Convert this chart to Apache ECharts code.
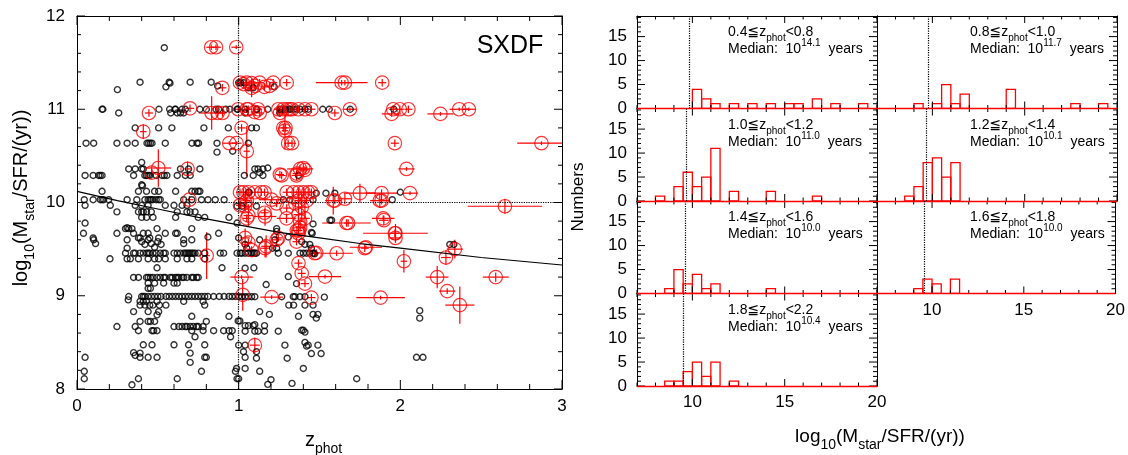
<!DOCTYPE html>
<html>
<head>
<meta charset="utf-8">
<title>sxdf-age</title>
<script src="https://cdn.jsdelivr.net/npm/echarts@6/dist/echarts.min.js"></script>
<style>html,body{margin:0;padding:0;background:#fff}#main{width:1128px;height:455px}</style>
</head>
<body>
<div id="main"></div>
<script>
var FONT = "'Liberation Sans', 'DejaVu Sans', Arial, sans-serif";

// ---- left panel: black = all galaxies [z_phot, log age]
var blackPts = [
 [0.54,11.66],
 [0.25,11.21],[0.39,11.29],[0.55,11.24],[0.57,11.29],[0.575,11.28],[0.70,11.29],[0.83,11.29],[0.87,11.25],
 [1.0,11.285],[1.01,11.285],[1.03,11.285],[1.06,11.23],[1.09,11.23],[1.22,11.24],
 [0.155,11.0],[0.16,11.0],[0.507,11.0],[0.573,11.0],[0.606,11.0],[0.61,11.0],[0.65,11.0],[0.67,11.0],[0.76,11.0],[0.80,11.0],[0.86,11.0],[0.876,11.0],[0.92,11.0],[0.946,11.0],[0.99,11.0],[0.995,11.0],
 [1.04,11.0],[1.11,11.0],[1.18,11.0],[1.255,11.0],[1.27,11.0],[1.29,11.0],[1.31,11.0],[1.32,11.0],[1.34,11.0],[1.36,11.0],[1.38,11.0],[1.41,11.0],[1.43,11.0],[1.52,11.0],[1.56,11.0],[1.69,11.0],[1.96,11.0],
 [0.258,10.96],[0.58,10.96],[0.62,10.96],[0.64,10.96],[0.66,10.96],[1.04,10.96],[1.255,10.96],
 [0.36,10.8],[0.505,10.8],[0.587,10.8],[0.785,10.8],[0.936,10.8],[1.08,10.8],[1.11,10.8],
 [0.056,10.636],[0.103,10.636],[0.247,10.636],[0.31,10.636],[0.36,10.636],[0.433,10.636],[0.443,10.636],[0.454,10.636],[0.464,10.636],[0.546,10.636],[0.711,10.636],[0.742,10.636],[0.752,10.636],[0.866,10.636],[1.06,10.636],
 [0.866,10.54],[0.963,10.55],[0.40,10.43],
 [0.32,10.36],[0.36,10.36],[0.40,10.36],[0.41,10.36],[0.64,10.36],[0.69,10.36],[0.76,10.36],[1.10,10.36],[1.12,10.36],[1.15,10.36],[1.18,10.37],[1.13,10.32],
 [0.05,10.29],[0.10,10.29],[0.134,10.29],[0.144,10.29],[0.155,10.29],[0.35,10.29],[0.42,10.29],[0.43,10.29],[0.44,10.29],[0.45,10.29],[0.49,10.29],[0.526,10.29],[0.54,10.29],[0.556,10.29],[0.62,10.29],[0.67,10.29],[0.70,10.29],[1.035,10.29],[1.09,10.29],[1.15,10.29],[1.37,10.29],
 [0.40,10.19],[0.405,10.18],
 [0.155,10.12],[0.38,10.12],[0.43,10.12],[0.48,10.12],[0.505,10.12],[0.61,10.12],[0.71,10.12],[0.73,10.12],[0.75,10.12],[0.76,10.12],[1.06,10.11],[1.065,10.11],[1.48,10.10],[1.54,10.10],[1.595,10.10],[2.0,10.11],
 [0.045,10.03],[0.10,10.03],[0.144,10.03],[0.155,10.03],[0.165,10.03],[0.196,10.03],[0.31,10.03],[0.37,10.03],[0.42,10.03],[0.44,10.03],[0.45,10.03],[0.46,10.03],[0.47,10.03],[0.49,10.03],[0.505,10.03],[0.515,10.03],[0.66,10.03],[0.71,10.03],[0.77,10.03],[0.81,10.03],[0.855,10.03],[0.91,10.03],[1.276,10.03],[1.317,10.03],[1.46,10.03],[1.95,10.03],
 [0.05,9.97],[0.206,9.97],[0.36,9.97],[0.40,9.97],[0.44,9.97],[0.546,9.97],[0.60,9.97],[0.65,9.97],[0.68,9.97],[0.99,9.96],[1.02,9.96],[1.11,9.96],
 [0.247,9.90],[0.38,9.90],[0.40,9.90],[0.41,9.90],[0.43,9.90],[0.46,9.90],[0.62,9.90],[0.68,9.90],[0.70,9.90],[0.73,9.90],
 [0.40,9.84],[0.43,9.84],[0.47,9.84],[0.61,9.84],[0.75,9.84],[0.79,9.84],[0.94,9.84],[1.565,9.81],[1.575,9.81],
 [0.05,9.78],[0.99,9.78],[1.46,9.77],[0.31,9.73],
 [0.30,9.72],[0.32,9.72],[0.34,9.72],[0.495,9.72],[0.71,9.72],[1.235,9.72],
 [0.04,9.67],[0.247,9.67],[0.35,9.67],[0.41,9.67],[0.44,9.67],[0.546,9.67],[0.61,9.67],[0.62,9.67],[0.876,9.67],[1.235,9.69],[1.45,9.68],[1.455,9.67],
 [0.10,9.62],[0.39,9.62],[0.45,9.62],[0.505,9.62],[1.0,9.62],[1.307,9.63],[0.81,9.63],
 [0.103,9.60],[0.115,9.56],[0.31,9.60],[0.31,9.51],[0.38,9.62],[0.40,9.58],[0.42,9.55],[0.44,9.60],[0.46,9.56],[0.48,9.52],[0.50,9.58],[0.52,9.55],[0.66,9.60],[0.66,9.56],[0.71,9.60],
 [1.13,9.60],[1.224,9.60],[1.39,9.58],[1.41,9.55],[1.44,9.55],[1.45,9.51],[1.04,9.55],[1.05,9.51],[1.21,9.51],[1.235,9.51],[2.306,9.55],[2.331,9.55],
 [0.30,9.457],[0.35,9.457],[0.36,9.457],[0.39,9.457],[0.41,9.457],[0.43,9.457],[0.44,9.457],[0.45,9.457],[0.47,9.457],[0.49,9.457],[0.515,9.457],[0.536,9.457],[0.546,9.457],[0.60,9.457],[0.62,9.457],[0.64,9.457],[0.66,9.457],[0.67,9.457],[0.68,9.457],[0.69,9.457],[0.70,9.457],[0.71,9.457],[0.72,9.457],[0.73,9.457],[0.75,9.457],[0.79,9.457],[0.886,9.457],[0.907,9.457],[0.99,9.457],[1.01,9.457],
 [1.02,9.456],[1.04,9.456],[1.06,9.456],[1.08,9.456],[1.09,9.456],[1.10,9.456],[1.11,9.456],[1.245,9.456],[1.307,9.456],[1.379,9.456],[1.40,9.456],[1.42,9.456],[1.44,9.456],[1.46,9.456],[1.47,9.45],
 [0.204,9.396],[0.31,9.396],[0.33,9.396],[0.38,9.396],[0.44,9.396],[0.48,9.396],[0.505,9.396],[0.546,9.396],[0.62,9.396],[0.68,9.396],[0.71,9.396],[0.79,9.396],
 [0.495,9.30],[0.897,9.30],[1.04,9.295],[1.094,9.30],
 [0.35,9.196],[0.38,9.196],[0.43,9.196],[0.44,9.196],[0.454,9.196],[0.47,9.196],[0.495,9.196],[0.515,9.196],[0.536,9.196],[0.546,9.196],[0.577,9.196],[0.59,9.196],[0.61,9.196],[0.62,9.196],[0.63,9.196],[0.65,9.196],[0.66,9.196],[0.68,9.196],[0.71,9.196],[0.72,9.196],[0.74,9.196],[0.75,9.196],[1.307,9.206],
 [0.44,9.135],[0.48,9.135],[0.536,9.135],[0.60,9.135],[0.62,9.135],[1.358,9.13],[1.17,9.12],[0.44,9.08],[0.454,9.08],
 [0.32,8.992],[0.40,8.992],[0.41,8.992],[0.42,8.992],[0.44,8.992],[0.46,8.992],[0.48,8.992],[0.50,8.992],[0.52,8.992],[0.55,8.992],[0.57,8.992],[0.59,8.992],[0.61,8.992],[0.63,8.992],[0.65,8.992],[0.67,8.992],[0.69,8.992],[0.71,8.992],[0.73,8.992],[0.75,8.992],[0.77,8.992],[0.79,8.992],[0.81,8.992],[0.845,8.992],[0.88,8.992],[0.91,8.992],[0.94,8.992],[0.96,8.992],[0.98,8.992],[1.0,8.992],
 [1.02,8.99],[1.04,8.99],[1.06,8.99],[1.08,8.99],[1.10,8.99],[1.266,8.99],[1.338,8.99],[1.348,8.99],[1.379,8.99],[1.41,8.99],[1.53,8.985],[0.317,8.956],
 [0.39,8.94],[0.41,8.94],[0.43,8.94],[0.495,8.94],[0.66,8.94],[0.78,8.94],
 [0.39,8.90],[0.42,8.90],[0.45,8.90],[0.47,8.90],[0.51,8.90],[0.55,8.90],[0.79,8.90],[1.31,8.90],[1.34,8.90],[1.41,8.90],[1.46,8.90],
 [0.35,8.83],[0.44,8.83],[0.505,8.83],[1.13,8.83],[2.12,8.84],
 [0.495,8.795],[0.71,8.78],[0.94,8.78],[1.19,8.80],[1.37,8.78],[1.46,8.80],[1.49,8.80],[1.48,8.76],[2.12,8.76],
 [0.39,8.724],[0.44,8.724],[0.454,8.724],[0.48,8.724],[0.80,8.724],[0.997,8.73],[1.007,8.73],
 [0.247,8.67],[0.36,8.67],[0.60,8.67],[0.63,8.67],[0.65,8.67],[0.67,8.67],[0.68,8.67],[0.70,8.67],[0.72,8.67],[0.74,8.67],[0.75,8.67],[0.78,8.67],
 [1.04,8.68],[1.06,8.68],[1.09,8.68],[1.10,8.69],[1.16,8.68],
 [0.38,8.625],[0.464,8.625],[0.474,8.625],[0.495,8.625],[0.71,8.625],[0.78,8.625],[0.845,8.625],[0.907,8.625],[0.94,8.625],[0.96,8.625],
 [1.16,8.62],[1.245,8.62],[1.04,8.62],[1.10,8.62],[1.12,8.62],[1.39,8.63],[1.40,8.63],[1.41,8.61],
 [0.73,8.56],[0.95,8.56],
 [0.41,8.474],[0.464,8.474],[0.60,8.474],[0.69,8.474],[0.79,8.474],[1.0,8.47],[1.04,8.47],[1.286,8.47],[1.41,8.50],[1.42,8.46],[1.43,8.47],[1.49,8.47],
 [0.35,8.39],[0.36,8.36],[0.39,8.385],[0.70,8.385],[1.03,8.40],[1.11,8.40],[1.45,8.38],[1.51,8.38],
 [0.05,8.34],[0.39,8.34],[0.44,8.34],[0.495,8.34],[0.79,8.34],[0.80,8.34],[1.04,8.34],[1.11,8.33],[1.30,8.33],[2.10,8.34],[2.14,8.34],
 [0.70,8.285],[0.987,8.22],[1.04,8.22],[1.40,8.22],
 [0.045,8.19],[0.77,8.19],[0.98,8.19],[1.13,8.19],
 [0.045,8.11],[0.38,8.11],[0.62,8.11],[0.99,8.11],[1.0,8.11],[1.20,8.10],[1.73,8.11],
 [0.34,8.045],[1.33,8.06],[1.18,8.05]
];

// ---- left panel: red = selected sample [z_phot, log age, z error, age error]
var redPts = [
 [0.83,11.665,0.03,0.03],[0.86,11.665,0.03,0.03],[0.985,11.665,0.03,0.02],[0.899,11.23],
 [1.008,11.285],[1.03,11.27],[1.05,11.285],[1.08,11.28],[1.10,11.25],[1.13,11.285],[1.16,11.24],[1.19,11.25],[1.214,11.285],[1.297,11.285],
 [1.637,11.285,0.16,0.03],[1.657,11.285,0.05,0.03],[1.888,11.285],[1.08,11.23,0.03,0.1],
 [0.445,10.96],[0.699,11.01],[0.833,10.96,0.08,0.18],[0.87,10.96],[0.90,10.96],[0.997,11.0],
 [1.05,11.0],[1.06,11.0],[1.10,10.97],[1.12,11.0],[1.13,10.96],[1.245,11.0],[1.255,10.96],[1.276,11.0],[1.30,11.0],[1.317,11.0],[1.33,11.0],[1.369,11.0],[1.41,11.0],[1.45,11.0],
 [1.595,10.96],[1.688,11.0,0.04,0.02],[1.946,10.95,0.06,0.03],[1.956,11.0],[1.997,11.0],[2.05,11.0],[2.248,10.95,0.08,0.02],[2.364,11.0,0.06,0.02],[2.424,11.0,0.04,0.02],
 [0.41,10.76,0.02,0.08],[1.018,10.80],[1.276,10.80],[1.29,10.80],[1.286,10.77,0.02,0.2],
 [0.942,10.636,0.04,0.02],[0.987,10.636,0.03,0.02],[1.306,10.636],[1.33,10.636],[1.966,10.636],[2.873,10.636,0.15,0.02],
 [1.05,10.55,0.02,0.27],
 [0.503,10.37,0.08,0.2],[0.462,10.32],[0.684,10.36,0.02,0.08],[1.38,10.36,0.08,0.04],[1.40,10.37],[1.41,10.35],[2.038,10.36,0.05,0.02],[1.255,10.30],[1.266,10.29],[1.358,10.29,0.03,0.05],[1.359,10.31],
 [0.695,10.03],[1.008,10.11],[1.03,10.11],[1.06,10.11],[1.10,10.11],[1.14,10.11],[1.16,10.11],[1.297,10.11],[1.34,10.11],[1.37,10.11],[1.40,10.11],[1.43,10.11],[1.45,10.11],
 [1.75,10.10,0.1,0.1],[1.884,10.10,0.1,0.04],[2.06,10.10,0.05,0.02],
 [1.04,10.0,0.03,0.1],[1.05,10.02],[1.204,10.03,0.08,0.04],[1.235,9.99],[1.297,9.94],[1.35,9.99],[1.37,10.02],[1.42,10.02],
 [1.585,10.02,0.05,0.15],[1.595,10.02],[1.657,10.04,0.04,0.06],[1.873,10.02,0.06,0.08],[1.884,10.02],[2.647,9.96,0.23,0.08],
 [1.008,9.97],[1.04,9.96],[1.06,9.86,0.03,0.12],[1.16,9.89],[1.163,9.85,0.07,0.1],[1.05,9.83],[1.296,9.83,0.06,0.05],
 [1.37,9.87,0.03,0.15],[1.38,9.80],[1.39,9.95,0.03,0.15],[1.41,9.83,0.03,0.2],[1.667,9.78,0.15,0.04],[1.677,9.78],
 [1.894,9.83,0.07,0.03],[1.898,9.81,0.03,0.05],[1.97,9.67,0.2,0.1],[1.97,9.62,0.03,0.05],
 [1.04,9.62,0.03,0.1],[1.06,9.57],[1.08,9.49],[1.163,9.51,0.03,0.1],[1.17,9.53,0.03,0.12],[1.235,9.60,0.03,0.06],[1.245,9.62],
 [1.369,9.67],[1.37,9.70],[1.358,9.58],[1.36,9.70],[1.38,9.73],[1.787,9.52,0.1,0.02],[1.78,9.51],[1.966,9.67],[2.337,9.50,0.05,0.1],[2.282,9.41,0.03,0.08],
 [1.47,9.456],[1.48,9.46],[1.606,9.456,0.1,0.03],[0.802,9.43,0.02,0.25],
 [2.022,9.37,0.02,0.12],[1.37,9.35],[1.39,9.24],[1.41,9.13],[1.534,9.206,0.1,0.02],[1.018,9.20,0.07,0.02],
 [2.228,9.20,0.07,0.12],[2.59,9.20,0.08,0.05],[2.29,9.05,0.05,0.03],[2.368,8.90,0.09,0.2],
 [1.025,9.01,0.03,0.17],[1.204,8.985,0.07,0.02],[1.45,8.98],[1.878,8.98,0.15,0.02],[1.10,8.47,0.03,0.08]
];

// age of the universe curve
var ageZ = [0, 0.25, 0.5, 0.75, 1, 1.25, 1.5, 1.75, 2, 2.5, 3];
var ageLog = [10.12, 10.02, 9.93, 9.84, 9.76, 9.68, 9.62, 9.56, 9.51, 9.41, 9.33];

// ---- histograms: [bin start, count], bin width 0.5
var binWidth = 0.5;
var histData = [
 [[10,4],[10.5,2],[11,1],[12,1],[13,1],[14,1],[15,1],[15.5,1],[16.5,2],[17.5,1],[19,1]],
 [[9,1],[10,1],[10.5,5],[11,1],[11.5,3],[14,4],[17.5,1],[19,1]],
 [[8,1],[9,3],[9.5,6],[10,3],[10.5,5],[11,11],[12,2],[14,2],[16.5,1]],
 [[8.5,1],[9,3],[9.5,8],[10,9],[10.5,5],[11,8]],
 [[8.5,1],[9,5],[9.5,2],[10,4],[10.5,1],[11,2],[14,1]],
 [[9,1],[9.5,3],[10,2],[11,3]],
 [[8.5,1],[9,1],[9.5,3],[10,5],[10.5,2],[11,5],[12,1]]
];
var zLow = ['0.4', '0.8', '1.0', '1.2', '1.4', '1.6', '1.8'];
var zHigh = ['0.8', '1.0', '1.2', '1.4', '1.6', '1.8', '2.2'];
var medians = ['14.1', '11.7', '11.0', '10.1', '10.0', '10.0', '10.4'];
var ageLines = [9.85, 9.8, 9.65, 9.67, 9.62, 9.58, 9.53];

var grids = [], xAxes = [], yAxes = [], series = [], graphics = [];

function range(a, b) { var r = []; for (var i = a; i <= b; i++) r.push(i); return r; }

function axis(g, pos, min, max, o) {
  var a = {
    type: 'value', gridIndex: g, position: pos, min: min, max: max,
    axisLine: {show: true, onZero: false, lineStyle: {color: '#000', width: 1}},
    splitLine: {show: false},
    axisTick: {show: false},
    axisLabel: o.labels ? {show: true, fontSize: o.size, color: '#000', fontFamily: FONT,
      margin: o.margin} : {show: false}
  };
  if (o.interval) a.interval = o.interval;
  if (o.labels && o.labels !== true) a.axisLabel.customValues = o.labels;
  return a;
}

// inward tick marks on the frame, placed through the axes' own scales
function addTicks(xi, yi, xr, yr, xt, yt, sides) {
  var data = xt.map(function (t) { return [t[0], yr[0], 0, t[1]]; })
    .concat(yt.map(function (t) { return [xr[0], t[0], 1, t[1]]; }));
  series.push({
    type: 'custom', xAxisIndex: xi, yAxisIndex: yi, clip: false, silent: true,
    data: data, encode: {x: 0, y: 1},
    renderItem: function (params, api) {
      var kind = api.value(2), len = api.value(3), ch = [];
      var st = {stroke: '#000', lineWidth: 1};
      function seg(x1, y1, x2, y2) { ch.push({type: 'line', shape: {x1: x1, y1: y1, x2: x2, y2: y2}, style: st}); }
      if (kind === 0) {
        var v = api.value(0), b = api.coord([v, yr[0]]), t = api.coord([v, yr[1]]);
        if (sides.bottom) seg(b[0], b[1], b[0], b[1] - len);
        if (sides.top) seg(t[0], t[1], t[0], t[1] + len);
      } else {
        var w = api.value(1), l = api.coord([xr[0], w]), r = api.coord([xr[1], w]);
        if (sides.left) seg(l[0], l[1], l[0] + len, l[1]);
        if (sides.right) seg(r[0], r[1], r[0] - len, r[1]);
      }
      return {type: 'group', children: ch};
    }
  });
}

function richStyle(size, drop) {
  var s = Math.round(size * 0.72);
  return {
    n: {fontSize: size, fontFamily: FONT, lineHeight: size + drop, verticalAlign: 'middle'},
    sub: {fontSize: s, fontFamily: FONT, lineHeight: s, verticalAlign: 'bottom'},
    sup: {fontSize: s, fontFamily: FONT, lineHeight: s, verticalAlign: 'top'}
  };
}

function txt(x, y, text, size, drop, align, rot) {
  graphics.push({
    type: 'text', x: x, y: y, rotation: rot || 0, silent: true,
    style: {text: text, rich: richStyle(size, drop), fill: '#000', align: align,
      verticalAlign: 'middle', fontSize: size, fontFamily: FONT}
  });
}

// ---------- left scatter panel
grids.push({left: 77, top: 16, width: 485, height: 373});
xAxes.push(axis(0, 'bottom', 0, 3, {interval: 1, labels: true, size: 17, margin: 9}));
xAxes.push(axis(0, 'top', 0, 3, {interval: 1}));
yAxes.push(axis(0, 'left', 8, 12, {interval: 1, labels: true, size: 17, margin: 12}));
yAxes.push(axis(0, 'right', 8, 12, {interval: 1}));

series.push({
  type: 'line', xAxisIndex: 0, yAxisIndex: 0, showSymbol: false, symbol: 'none',
  data: ageZ.map(function (z, i) { return [z, ageLog[i]]; }),
  lineStyle: {color: '#000', width: 1.2},
  markLine: {
    silent: true, symbol: ['none', 'none'], label: {show: false},
    lineStyle: {color: '#000', type: 'dotted', width: 1.2},
    data: [{xAxis: 1}, [{coord: [0.7, 10]}, {coord: [3, 10]}]]
  }
});
series.push({
  type: 'scatter', xAxisIndex: 0, yAxisIndex: 0, symbol: 'circle', symbolSize: 6,
  data: blackPts,
  itemStyle: {color: 'rgba(0,0,0,0)', borderColor: '#000', borderWidth: 1.4}
});
var redFull = redPts.map(function (p) {
  return [p[0], p[1], p[2] == null ? 0.025 : p[2], p[3] == null ? 0.04 : p[3]];
});
series.push({
  type: 'custom', xAxisIndex: 0, yAxisIndex: 0, clip: true,
  data: redFull, encode: {x: 0, y: 1},
  renderItem: function (params, api) {
    var x = api.value(0), y = api.value(1), xe = api.value(2), ye = api.value(3);
    var a = api.coord([x - xe, y]), b = api.coord([x + xe, y]);
    var c = api.coord([x, y - ye]), d = api.coord([x, y + ye]);
    var st = {stroke: '#ff0000', lineWidth: 1.2};
    return {type: 'group', children: [
      {type: 'line', shape: {x1: a[0], y1: a[1], x2: b[0], y2: b[1]}, style: st},
      {type: 'line', shape: {x1: c[0], y1: c[1], x2: d[0], y2: d[1]}, style: st}
    ]};
  }
});
series.push({
  type: 'scatter', xAxisIndex: 0, yAxisIndex: 0, symbol: 'circle', symbolSize: 13.5,
  data: redFull.map(function (p) { return [p[0], p[1]]; }),
  itemStyle: {color: 'rgba(0,0,0,0)', borderColor: '#ff0000', borderWidth: 1.2}
});
addTicks(0, 0, [0, 3], [8, 12],
  range(0, 15).map(function (i) { return [i / 5, i % 5 === 0 ? 9 : 5]; }),
  range(40, 60).map(function (i) { return [i / 5, i % 5 === 0 ? 8 : 4]; }),
  {bottom: true, top: true, left: true, right: true});

txt(510, 46, 'SXDF', 25, 0, 'center');
txt(21, 198, '{n|log}{sub|10}{n|(M}{sub|star}{n|/SFR/(yr))}', 20, 12, 'center', Math.PI / 2);
txt(305, 440, '{n|z}{sub|phot}', 20, 12, 'left');

// ---------- histogram panels
var colLeft = [637, 877], rowTop = 16, rowH = 92.5, panelW = 240;
var xMajor = [10, 15, 20], yMajor = [0, 5, 10, 15];
var xTicks = range(7, 20).map(function (v) { return [v, v % 5 === 0 ? 7 : 3.5]; });
var yTicks = range(0, 19).map(function (v) { return [v, v % 5 === 0 ? 8 : 4]; });

histData.forEach(function (bins, k) {
  var col = k % 2, row = Math.floor(k / 2);
  var g = grids.length;
  var top = rowTop + row * rowH;
  grids.push({left: colLeft[col], top: top, width: panelW, height: rowH});
  var showX = (k === 5 || k === 6);
  var xi = xAxes.length, yi = yAxes.length;
  xAxes.push(axis(g, 'bottom', 7, 20, {labels: showX ? xMajor : null, size: 17, margin: 8}));
  xAxes.push(axis(g, 'top', 7, 20, {}));
  yAxes.push(axis(g, 'left', 0, 19.3, {labels: col === 0 ? yMajor : null, size: 17, margin: 10}));
  yAxes.push(axis(g, 'right', 0, 19.3, {}));

  series.push({
    type: 'custom', xAxisIndex: xi, yAxisIndex: yi, clip: true,
    data: bins, encode: {x: 0, y: 1},
    renderItem: function (params, api) {
      var x0 = api.value(0), h = api.value(1);
      var p0 = api.coord([x0, h]), p1 = api.coord([x0 + binWidth, 0]);
      return {type: 'rect', shape: {x: p0[0], y: p0[1], width: p1[0] - p0[0], height: p1[1] - p0[1]},
        style: {fill: 'none', stroke: '#ff0000', lineWidth: 1.3}};
    },
    markLine: {
      silent: true, symbol: ['none', 'none'], label: {show: false}, animation: false,
      data: [
        {xAxis: ageLines[k], lineStyle: {color: '#000', type: 'dotted', width: 1.2}},
        {yAxis: 0, lineStyle: {color: '#ff0000', type: 'solid', width: 1.3}}
      ]
    }
  });
  addTicks(xi, yi, [7, 20], [0, 19.3], xTicks, yTicks,
    {bottom: true, top: true, left: col === 0, right: true});

  var tx = col === 0 ? 728 : 970;
  txt(tx, top + 16.5, '{n|' + zLow[k] + '≦z}{sub|phot}{n|<' + zHigh[k] + '}', 14, 8, 'left');
  txt(tx, top + 33.5, '{n|Median:  10}{sup|' + medians[k] + '}{n|  years}', 14, 8, 'left');
});

txt(578, 197, 'Numbers', 17, 0, 'center', Math.PI / 2);
txt(880, 437, '{n|log}{sub|10}{n|(M}{sub|star}{n|/SFR/(yr))}', 19, 12, 'center');

var chart = echarts.init(document.getElementById('main'));
chart.setOption({
  animation: false,
  grid: grids,
  xAxis: xAxes,
  yAxis: yAxes,
  series: series,
  graphic: graphics
});
</script>
</body>
</html>
